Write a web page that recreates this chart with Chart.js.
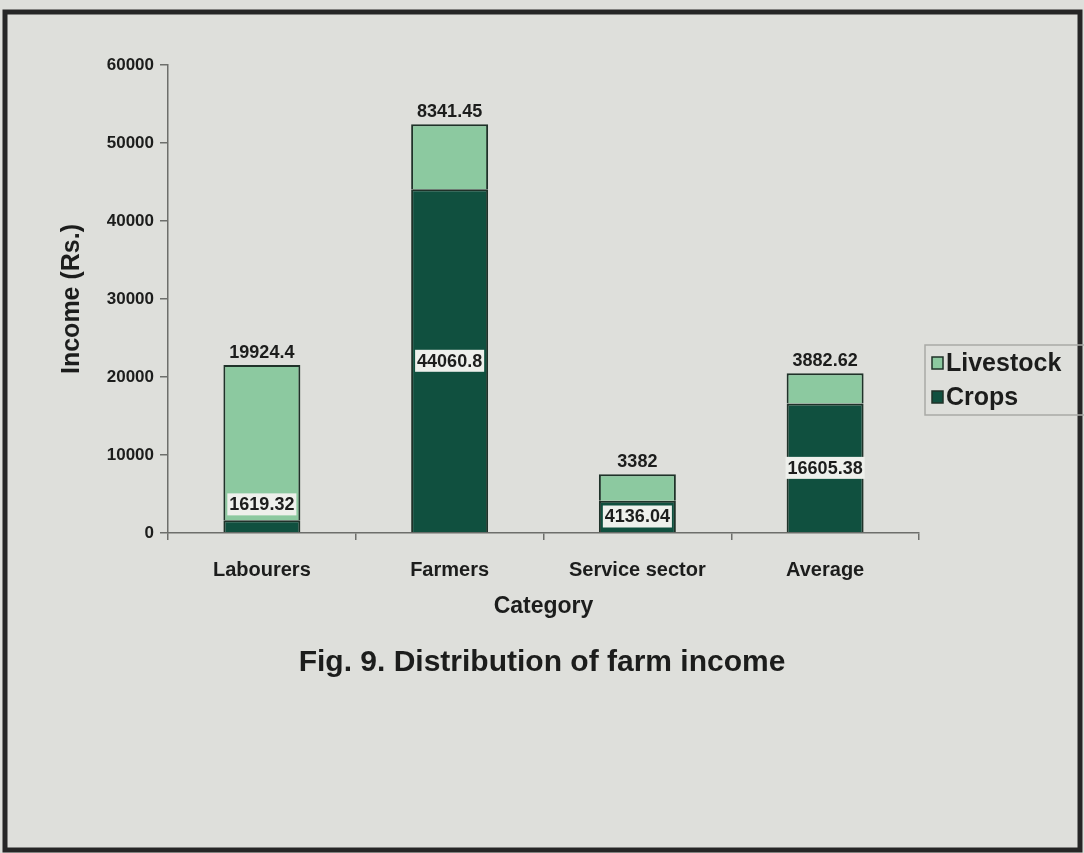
<!DOCTYPE html>
<html>
<head>
<meta charset="utf-8">
<title>Distribution of farm income</title>
<script src="https://cdn.jsdelivr.net/npm/chart.js@4.4.0/dist/chart.umd.min.js"></script>
<style>
  html, body { margin: 0; padding: 0; background: #dedfdb; }
  #wrap { width: 1084px; height: 853px; }
</style>
</head>
<body>
<div id="wrap"><canvas id="farmIncome" width="1084" height="853"></canvas></div>
<script>
// farm income by category, Rs.
const categories = ['Labourers', 'Farmers', 'Service sector', 'Average'];
const crops = [1619.32, 44060.8, 4136.04, 16605.38];
const livestock = [19924.4, 8341.45, 3382, 3882.62];
const yMax = 60000;
const yStep = 10000;
const figTitle = 'Fig. 9. Distribution of farm income';

const FONT = "'Liberation Sans', Arial, sans-serif";
const INK = '#1c1d1c';
const LIGHT = '#8cc9a0';
const DARK = '#10503f';
const EDGE = '#1f3229';

// page background + dark frame round the figure ...............................
const paperBg = {
  id: 'paperBg',
  beforeDraw(chart) {
    const ctx = chart.ctx;
    ctx.save();
    ctx.fillStyle = '#dedfdb';
    ctx.fillRect(0, 0, chart.width, chart.height);
    ctx.restore();
  },
  afterDraw(chart) {
    const ctx = chart.ctx;
    ctx.save();
    ctx.strokeStyle = '#262626';
    ctx.lineWidth = 5;
    ctx.strokeRect(5, 12, chart.width - 9, chart.height - 15);
    ctx.restore();
  }
};

// value labels: livestock above the stack, crops boxed inside its segment .....
const barLabels = {
  id: 'barLabels',
  afterDatasetsDraw(chart) {
    const ctx = chart.ctx;
    ctx.save();
    ctx.font = 'bold 18px ' + FONT;
    ctx.textAlign = 'center';
    chart.data.datasets.forEach(function(ds, di){
      const meta = chart.getDatasetMeta(di);
      meta.data.forEach(function(bar, i){
        const txt = String(ds.data[i]);
        if (ds.label === 'Livestock') {
          ctx.textBaseline = 'bottom';
          ctx.fillStyle = INK;
          ctx.fillText(txt, bar.x, bar.y - 3);
        } else {
          const h = bar.base - bar.y;
          const cy = h >= 24 ? (bar.y + bar.base) / 2 : bar.y - 16;
          const w = ctx.measureText(txt).width + 4;
          ctx.fillStyle = '#eef0ec';
          ctx.fillRect(bar.x - w / 2, cy - 11, w, 22);
          ctx.textBaseline = 'middle';
          ctx.fillStyle = INK;
          ctx.fillText(txt, bar.x, cy + 1);
        }
      });
    });
    ctx.restore();
  }
};

// legend box at the right and the figure caption underneath ...................
const sideLegend = {
  id: 'sideLegend',
  afterDraw(chart) {
    const ctx = chart.ctx;
    ctx.save();
    ctx.strokeStyle = '#a9aaa6';
    ctx.lineWidth = 1.5;
    ctx.strokeRect(925, 345, 160, 70);
    ctx.font = 'bold 25px ' + FONT;
    ctx.textBaseline = 'middle';
    ctx.textAlign = 'left';
    const items = chart.data.datasets.slice().reverse();
    items.forEach(function(ds, k){
      const y = 363 + k * 34;
      ctx.fillStyle = ds.backgroundColor;
      ctx.fillRect(932, y - 6, 11, 12);
      ctx.strokeStyle = EDGE;
      ctx.lineWidth = 1.5;
      ctx.strokeRect(932, y - 6, 11, 12);
      ctx.fillStyle = INK;
      ctx.fillText(ds.label, 946, y + 1);
    });

    ctx.font = 'bold 30px ' + FONT;
    ctx.textAlign = 'center';
    ctx.fillText(figTitle, 542, 663);
    ctx.restore();
  }
};

Chart.defaults.font.family = FONT;
Chart.defaults.font.weight = 'bold';
Chart.defaults.color = INK;

new Chart(document.getElementById('farmIncome'), {
  type: 'bar',
  data: {
    labels: categories,
    datasets: [
      { label: 'Crops', data: crops, backgroundColor: DARK, borderColor: EDGE, borderWidth: 2 },
      { label: 'Livestock', data: livestock, backgroundColor: LIGHT, borderColor: EDGE, borderWidth: 2 }
    ]
  },
  options: {
    responsive: false,
    devicePixelRatio: 1,
    animation: false,
    categoryPercentage: 1,
    barPercentage: 0.41,
    layout: { padding: { left: 0, top: 65, right: 165, bottom: 220 } },
    plugins: {
      legend: { display: false },
      tooltip: { enabled: false }
    },
    scales: {
      x: {
        stacked: true,
        grid: { drawOnChartArea: false, offset: true, tickLength: 7, color: '#6d6e6b', lineWidth: 1.5 },
        border: { color: '#6d6e6b', width: 1.5 },
        ticks: { font: { size: 20, weight: 'bold' }, padding: 18 },
        title: { display: true, text: 'Category', font: { size: 23, weight: 'bold' }, padding: { top: 0, bottom: 13 } },
        afterFit: function(s){ s.height = 100; }
      },
      y: {
        stacked: true,
        min: 0,
        max: yMax,
        grid: { drawOnChartArea: false, tickLength: 8, color: '#6d6e6b', lineWidth: 1.5 },
        border: { color: '#6d6e6b', width: 1.5 },
        ticks: {
          stepSize: yStep,
          font: { size: 17, weight: 'bold' },
          padding: 6,
          callback: function(v){ return String(v); }
        },
        title: { display: true, text: 'Income (Rs.)', font: { size: 25, weight: 'bold' }, padding: { top: 57, bottom: 0 } },
        afterFit: function(s){ s.width = 168; }
      }
    }
  },
  plugins: [paperBg, barLabels, sideLegend]
});
</script>
</body>
</html>
